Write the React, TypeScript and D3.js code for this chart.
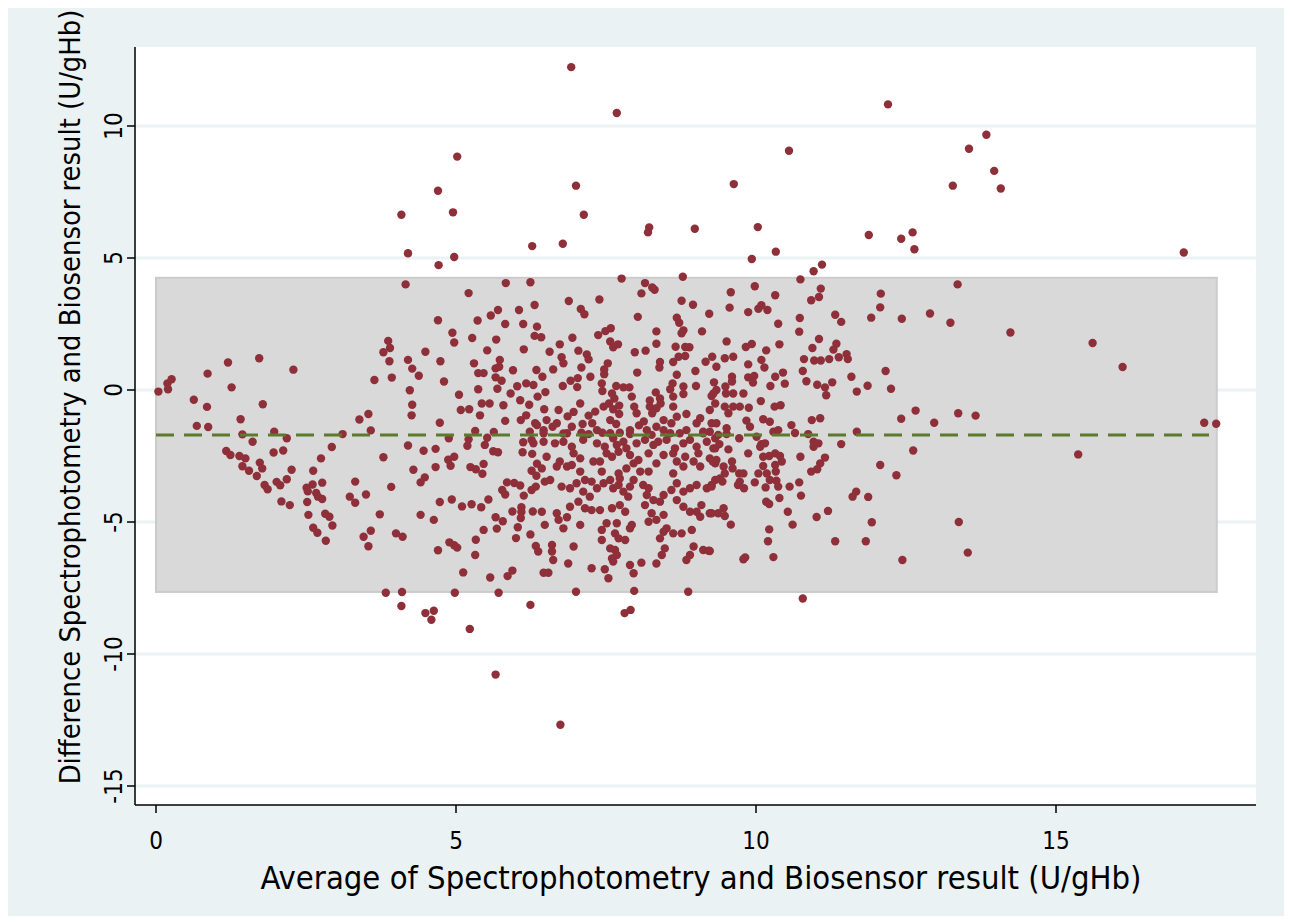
import React from 'react';
import * as d3 from 'd3';

// ---- axis / reference values ----
const xTicks = [0, 5, 10, 15];
const yTicks = [-15, -10, -5, 0, 5, 10];
const meanDiff = -1.7;
const upperLimit = 4.25;
const lowerLimit = -7.65;
const bandStart = 0;
const bandEnd = 17.68;
const dashEnd = 17.55;
const xTitle = 'Average of Spectrophotometry and Biosensor result (U/gHb)';
const yTitle = 'Difference Spectrophotometry and Biosensor result (U/gHb)';

// ---- observations: [average, difference] ----
const lowAverages: [number, number][] = [
  [0.04,-0.06],[0.2,0.03],[0.19,0.25],[0.26,0.41],[0.86,0.62],[1.2,1.04],[1.72,1.2],[2.29,0.77],[1.26,0.1],[0.63,-0.37],
  [0.85,-0.64],[1.78,-0.54],[0.68,-1.36],[0.87,-1.4],[1.41,-1.11],[1.44,-1.68],[1.61,-1.96],[1.97,-1.58],[2.18,-1.83],[3.11,-1.67],
  [2.93,-2.16],[1.17,-2.31],[1.24,-2.46],[1.39,-2.5],[1.49,-2.59],[1.44,-2.89],[1.55,-3.06],[1.68,-3.26],[1.73,-2.75],[1.77,-2.97],
  [1.96,-2.37],[2.12,-2.29],[2.26,-3.02],[1.81,-3.6],[1.86,-3.76],[2.01,-3.48],[2.07,-3.61],[2.18,-3.38],[2.09,-4.22],[2.23,-4.36],
  [2.75,-2.59],[2.62,-3.06],[2.77,-3.51],[2.51,-3.7],[2.61,-3.58],[2.53,-3.84],[2.67,-3.9],[2.7,-4.04],[2.77,-4.13],[2.52,-4.24],
  [3.23,-4.04],[2.54,-4.73],[2.82,-4.69],[2.89,-4.8],[2.62,-5.22],[2.69,-5.41],[2.94,-5.13],[2.83,-5.71],[3.32,-3.47],[3.32,-4.27],
];

const upperOutliers: [number, number][] = [
  [6.92,12.23],[7.68,10.49],[12.2,10.82],[5.02,8.84],[4.7,7.55],[7.0,7.74],[9.63,7.8],[10.55,9.06],[4.09,6.64],[4.95,6.73],
  [7.13,6.64],[8.22,6.16],[8.2,5.97],[8.98,6.11],[10.03,6.17],[11.88,5.87],[12.42,5.73],[4.2,5.18],[4.97,5.04],[6.27,5.45],
  [6.78,5.54],[9.93,4.96],[10.33,5.24],
];

const highAverages: [number, number][] = [
  [13.84,9.67],[13.55,9.14],[13.97,8.3],[13.28,7.74],[14.08,7.63],[12.61,5.97],[12.64,5.33],[17.13,5.21],[13.36,4.0],[12.43,2.7],
  [12.9,2.9],[13.24,2.55],[14.24,2.18],[15.61,1.78],[16.11,0.87],[12.42,-1.09],[12.66,-0.78],[12.97,-1.24],[13.37,-0.88],[13.66,-0.97],
  [17.47,-1.24],[17.67,-1.28],[12.62,-2.29],[15.37,-2.44],[12.34,-3.23],[13.38,-5.0],[12.44,-6.44],[13.53,-6.16],
];

const lowerOutliers: [number, number][] = [
  [3.83,-7.68],[4.1,-7.65],[4.98,-7.68],[5.71,-7.68],[7.0,-7.64],[7.97,-7.61],[8.87,-7.64],[10.78,-7.9],[4.09,-8.18],[4.49,-8.45],
  [4.63,-8.36],[4.59,-8.7],[5.23,-9.05],[6.24,-8.14],[7.81,-8.45],[7.91,-8.33],[5.66,-10.78],[6.74,-12.68],
];

const midUpperLeft: [number, number][] = [
  [4.71,4.73],[4.16,4.0],[5.83,4.05],[6.24,4.08],[5.21,3.67],[6.31,3.22],[5.7,3.03],[5.58,2.82],[5.36,2.63],[6.05,3.03],
  [4.7,2.64],[5.82,2.5],[6.12,2.5],[6.35,2.4],[4.94,2.17],[4.97,1.8],[5.27,1.97],[5.67,1.91],[6.31,2.05],[6.13,1.54],
  [5.52,1.5],[3.87,1.86],[3.9,1.59],[3.79,1.43],[3.89,1.09],[4.49,1.45],[4.2,1.14],[4.74,1.09],[4.27,0.81],[4.38,0.54],
  [3.93,0.47],[3.64,0.38],[4.8,0.32],[5.3,1.01],[5.73,1.14],[5.66,0.82],[5.72,0.88],[5.37,0.64],[5.46,0.64],[5.66,0.48],
  [5.76,0.35],[5.95,0.75],[6.34,0.76],[4.23,-0.01],[5.37,0.03],[5.69,0.05],[6.02,0.14],[6.17,0.25],[6.29,0.19],[6.36,-0.25],
  [5.05,-0.18],[5.91,-0.13],[4.27,-0.56],[4.26,-0.96],[5.43,-0.51],[5.56,-0.51],[5.79,-0.58],[6.07,-0.39],[6.22,-0.56],[5.08,-0.76],
  [5.22,-0.73],[5.4,-0.96],[6.17,-0.96],[3.54,-0.91],[3.39,-1.12],[3.58,-1.53],[4.73,-1.24],[5.82,-1.17],[6.08,-1.14],[6.32,-1.26],
  [5.32,-1.55],[5.63,-1.59],[6.23,-1.58],[5.21,-1.87],[4.88,-1.83],[5.52,-1.81],
];

const midLowerLeft: [number, number][] = [
  [5.19,-2.11],[5.48,-2.08],[4.2,-2.1],[4.46,-2.3],[4.66,-2.23],[3.79,-2.55],[4.87,-2.64],[4.97,-2.53],[4.91,-2.87],[5.62,-2.32],
  [5.7,-2.36],[6.11,-2.36],[6.12,-1.98],[6.26,-1.89],[6.27,-2.42],[6.35,-2.79],[5.46,-2.8],[5.24,-2.92],[5.33,-3.0],[5.44,-3.17],
  [4.66,-2.92],[4.29,-3.02],[4.48,-3.31],[4.41,-3.5],[3.92,-3.67],[3.5,-3.96],[6.26,-3.06],[6.34,-3.25],[5.85,-3.5],[5.97,-3.52],
  [6.07,-3.62],[5.77,-3.79],[5.82,-3.96],[6.26,-3.79],[6.33,-3.66],[6.13,-4.0],[4.73,-4.24],[4.93,-4.15],[5.1,-4.41],[5.26,-4.33],
  [5.42,-4.44],[5.54,-4.15],[6.09,-4.44],[6.09,-4.62],[6.28,-4.6],[5.94,-4.6],[6.08,-4.85],[3.73,-4.71],[4.41,-4.73],[4.63,-4.92],
  [5.66,-4.82],[5.78,-4.97],[5.68,-5.25],[6.03,-5.2],[6.0,-5.61],[5.46,-5.3],[5.33,-5.67],[3.58,-5.33],[3.46,-5.56],[3.54,-5.92],
  [4.0,-5.43],[4.11,-5.56],[4.89,-5.77],[4.97,-5.88],[5.02,-5.97],[4.7,-6.07],[5.32,-6.25],[6.24,-5.47],[6.33,-5.91],[5.12,-6.91],
  [5.57,-7.1],[5.86,-7.05],[5.94,-6.84],
];

const midUpperCentre: [number, number][] = [
  [7.76,4.22],[8.78,4.29],[8.15,4.05],[8.09,3.66],[8.27,3.88],[8.31,3.8],[6.88,3.37],[7.39,3.43],[7.08,3.07],[7.14,2.87],
  [8.76,3.38],[8.95,3.23],[9.22,2.89],[8.03,2.77],[8.68,2.74],[8.72,2.55],[6.42,2.0],[6.94,1.98],[7.37,2.08],[7.49,2.23],
  [7.58,2.34],[7.57,1.84],[7.62,1.62],[7.7,1.73],[8.34,2.22],[8.34,1.75],[8.79,2.26],[8.76,2.15],[9.1,2.22],[6.73,1.73],
  [6.56,1.45],[7.04,1.49],[7.18,1.35],[7.21,1.16],[6.76,1.24],[6.79,1.01],[7.09,0.85],[6.62,0.78],[7.53,1.01],[7.47,0.78],
  [7.47,0.6],[7.98,1.43],[8.16,1.49],[8.66,1.64],[8.82,1.63],[8.89,1.62],[8.71,1.26],[8.82,1.29],[8.62,1.06],[8.4,1.06],
  [8.39,0.85],[9.16,1.07],[9.27,1.26],[9.34,0.88],[8.99,0.72],[8.02,0.66],[8.68,0.58],[6.44,0.5],[6.91,0.35],[7.03,0.45],
  [7.02,0.11],[6.78,0.15],[7.24,0.5],[6.49,-0.08],[7.43,0.25],[7.44,-0.04],[7.67,0.15],[7.79,0.1],[7.89,0.1],[7.6,-0.13],
  [7.64,-0.32],[7.55,-0.51],[7.62,-0.73],[7.72,-0.59],[7.72,-0.91],[7.57,-1.14],[7.46,-0.63],[7.32,-0.82],[7.21,-0.97],[7.07,-0.51],
  [6.96,-0.83],[6.71,-0.76],[6.47,-0.73],[6.51,-1.14],[6.86,-1.0],[6.93,-1.39],[7.11,-1.29],[7.27,-1.26],[6.46,-1.52],[6.61,-1.39],
  [6.79,-1.65],[7.09,-1.62],[7.44,-1.62],[7.67,-1.29],[7.9,-1.52],[8.01,-0.88],[7.97,-0.63],[7.93,-0.25],[8.05,-1.34],[8.13,-1.19],
  [8.23,-0.4],[8.33,-0.09],[8.4,-0.32],[8.23,-0.63],[8.27,-0.88],[8.34,-0.69],[8.41,-0.51],[8.57,0.03],[8.61,0.25],[8.79,0.13],
  [9.0,0.15],[8.62,-0.25],[8.79,-0.15],[8.62,-0.63],[8.68,-1.01],[8.84,-0.91],[8.59,-1.26],[8.46,-1.14],[8.46,-1.52],[8.84,-1.52],
  [9.01,-1.26],[9.07,-1.07],[9.26,-0.23],[9.32,-0.51],[9.23,-0.76],[9.34,0.0],[9.26,-1.26],[9.23,-1.58],[6.35,-1.33],[6.68,-1.26],
  [7.35,-1.52],[7.73,-1.62],[8.18,-1.52],[8.34,-1.39],[8.57,-1.64],[9.12,-1.58],[9.34,-1.26],
];

const midLowerCentre: [number, number][] = [
  [6.46,-1.64],[6.85,-1.64],[7.21,-1.67],[7.57,-1.64],[7.9,-1.67],[8.26,-1.7],[8.73,-1.64],[9.12,-1.64],[9.37,-1.7],[6.29,-2.02],
  [6.46,-1.96],[6.65,-2.02],[6.79,-1.96],[6.93,-2.15],[7.12,-1.89],[7.35,-2.02],[7.48,-2.15],[7.62,-1.83],[7.68,-2.08],[7.79,-1.96],
  [7.84,-2.21],[8.01,-2.02],[8.15,-1.89],[8.29,-2.08],[8.37,-1.96],[8.51,-1.89],[8.65,-2.21],[8.79,-2.02],[8.9,-1.89],[9.01,-2.15],
  [9.18,-1.96],[9.32,-2.21],[6.51,-2.53],[6.43,-2.97],[6.96,-2.4],[7.07,-2.59],[6.85,-2.9],[6.93,-2.84],[7.07,-3.09],[7.29,-2.71],
  [7.4,-2.71],[7.43,-3.09],[7.51,-2.4],[7.6,-2.53],[7.71,-2.34],[7.71,-3.16],[7.9,-2.46],[7.96,-2.78],[7.84,-2.97],[8.04,-2.65],
  [8.07,-3.09],[8.21,-3.09],[8.21,-2.4],[8.34,-2.78],[8.46,-2.46],[8.62,-2.4],[8.68,-2.71],[8.62,-3.16],[8.82,-2.53],[8.79,-2.9],
  [8.96,-2.71],[9.04,-2.4],[9.07,-2.9],[9.23,-2.59],[9.32,-2.78],[6.68,-2.9],[6.73,-2.71],[6.48,-3.47],[6.57,-3.41],[6.76,-3.66],
  [6.9,-3.72],[7.01,-3.53],[7.15,-3.41],[7.26,-3.47],[7.12,-3.85],[7.23,-4.04],[7.35,-3.72],[7.46,-3.53],[7.62,-3.72],[7.71,-3.6],
  [7.79,-3.85],[7.9,-3.66],[7.96,-3.41],[7.73,-3.35],[7.57,-3.41],[7.87,-4.04],[8.12,-3.6],[8.21,-3.72],[8.18,-3.98],[8.29,-4.17],
  [8.4,-4.23],[8.46,-3.98],[8.59,-3.79],[8.68,-3.53],[8.79,-3.85],[8.9,-3.72],[9.01,-3.6],[9.18,-3.72],[9.26,-3.6],[8.68,-4.17],
  [8.79,-4.42],[9.09,-4.36],[8.9,-4.61],[9.01,-4.61],[9.07,-4.8],[9.23,-4.67],[6.43,-4.61],[6.68,-4.67],[6.71,-4.92],[6.85,-4.82],
  [6.79,-5.24],[6.48,-5.11],[6.9,-4.42],[7.04,-4.23],[7.15,-4.48],[7.26,-4.55],[7.4,-4.55],[7.07,-5.11],[7.6,-4.48],[7.73,-4.36],
  [7.82,-4.61],[7.51,-5.05],[7.68,-5.05],[7.43,-5.3],[7.65,-5.43],[7.71,-5.62],[7.82,-5.68],[7.9,-5.24],[7.93,-5.11],[8.15,-4.36],
  [8.26,-4.67],[8.21,-4.99],[8.34,-4.92],[8.46,-4.73],[8.51,-5.24],[8.46,-5.37],[8.4,-5.62],[8.62,-5.43],[8.76,-5.43],[8.93,-5.3],
  [6.37,-6.12],[6.6,-5.87],[6.6,-6.12],[6.62,-6.44],[6.96,-5.93],[7.43,-5.68],[7.57,-6.0],[7.65,-6.06],[7.6,-6.38],[7.68,-6.25],
  [7.62,-6.5],[8.48,-6.0],[8.43,-6.25],[8.34,-6.57],[8.09,-6.54],[7.9,-6.63],[7.96,-6.94],[8.96,-5.93],[8.9,-6.25],[8.84,-6.44],
  [9.12,-6.06],[9.21,-6.09],[6.87,-6.57],[7.26,-6.75],[7.48,-6.79],[7.54,-7.13],[6.46,-6.92],[6.54,-6.92],
];

const midRight: [number, number][] = [
  [11.1,4.75],[10.96,4.5],[10.74,4.19],[9.98,3.93],[9.58,3.7],[10.32,3.59],[11.08,3.84],[11.05,3.52],[10.92,3.4],[12.08,3.65],
  [12.07,3.13],[11.92,2.74],[9.56,3.12],[9.87,2.95],[10.04,3.08],[10.09,3.21],[10.19,3.03],[10.37,2.51],[10.73,2.73],[10.72,2.21],
  [11.32,2.85],[11.42,2.58],[9.51,1.84],[9.83,1.63],[9.93,1.74],[10.17,1.5],[10.39,1.73],[11.05,1.93],[10.94,1.59],[11.34,1.75],
  [11.29,1.53],[9.48,1.2],[9.62,1.26],[9.87,0.97],[10.09,1.14],[10.14,0.85],[10.8,1.17],[10.97,1.12],[11.08,1.12],[11.22,1.17],
  [11.38,1.24],[11.51,1.36],[11.53,1.17],[10.78,0.72],[10.45,0.66],[10.32,0.5],[9.87,0.48],[9.97,0.53],[9.95,0.28],[9.6,0.5],
  [9.6,0.32],[9.3,0.29],[11.59,0.5],[12.16,0.72],[10.84,0.33],[10.48,0.24],[10.24,0.15],[11.02,0.2],[11.15,0.1],[11.27,0.29],
  [11.17,-0.2],[11.86,0.16],[11.68,-0.06],[12.25,0.05],[9.49,0.13],[9.29,-0.13],[9.5,-0.13],[9.62,-0.13],[9.79,-0.13],[9.48,-0.63],
  [9.62,-0.63],[9.73,-0.63],[9.54,-0.88],[10.08,-0.42],[9.88,-0.67],[10.31,-0.63],[10.41,-0.58],[9.51,-1.45],[9.84,-1.16],[9.9,-1.39],
  [10.12,-1.11],[10.23,-1.2],[10.29,-1.58],[10.37,-1.52],[10.59,-1.33],[10.93,-1.14],[11.07,-1.07],[10.65,-1.63],[11.68,-1.58],
];

const midLowerRight: [number, number][] = [
  [9.51,-1.67],[10.87,-1.67],[9.32,-1.83],[9.39,-2.05],[9.54,-2.25],[9.29,-2.21],[9.72,-1.83],[10.01,-1.77],[10.09,-2.05],[10.15,-2.02],
  [10.07,-2.15],[10.96,-1.96],[11.04,-2.02],[10.96,-2.15],[11.42,-2.05],[9.87,-2.4],[10.74,-2.53],[11.15,-2.56],[11.07,-2.78],[11.02,-3.0],
  [10.92,-3.09],[12.07,-2.84],[10.12,-2.53],[10.22,-2.5],[10.32,-2.4],[10.4,-2.5],[10.43,-2.71],[10.12,-2.88],[10.32,-2.84],[10.33,-3.09],
  [10.04,-3.16],[10.18,-3.16],[10.23,-3.41],[10.34,-3.44],[9.98,-3.5],[9.79,-3.16],[9.72,-3.16],[9.73,-3.47],[9.7,-3.6],[9.8,-3.72],
  [9.46,-2.9],[9.48,-3.16],[9.4,-3.35],[9.44,-3.47],[9.32,-3.41],[9.26,-3.66],[9.61,-2.97],[9.34,-2.65],[9.28,-2.71],[9.6,-2.71],
  [10.16,-3.69],[10.37,-3.66],[10.56,-3.66],[10.72,-3.5],[10.75,-4.0],[10.39,-4.09],[10.17,-4.23],[10.22,-4.32],[11.61,-4.04],[11.67,-3.85],
  [11.87,-4.05],[10.53,-4.61],[11.2,-4.58],[11.01,-4.81],[11.93,-5.01],[10.61,-5.1],[9.46,-4.48],[9.37,-4.67],[9.48,-4.77],[9.58,-5.1],
  [9.26,-4.67],[10.22,-5.28],[10.2,-5.73],[11.32,-5.73],[11.83,-5.73],[9.23,-6.1],[9.79,-6.41],[9.82,-6.34],[10.29,-6.33],
];

const observations: [number, number][] = [
  ...lowAverages, ...upperOutliers, ...highAverages, ...lowerOutliers,
  ...midUpperLeft, ...midLowerLeft, ...midUpperCentre, ...midLowerCentre,
  ...midRight, ...midLowerRight,
];

const FONT = '"DejaVu Sans Condensed", "DejaVu Sans", sans-serif';

export default function App() {
  const x = d3.scaleLinear().domain([0, 15]).range([156, 1056]);
  const y = d3.scaleLinear().domain([-15, 10]).range([786, 126]);

  const plotLeft = 136;
  const plotRight = 1256;
  const plotTop = 47;
  const plotBottom = 805;

  return (
    <svg
      width={1292}
      height={924}
      style={{ position: 'absolute', left: 0, top: 0 }}
      fontFamily={FONT}
      fontStretch="condensed"
    >
      <rect x={8} y={8} width={1276} height={908} fill="#eaf2f3" />
      <rect x={plotLeft} y={plotTop} width={plotRight - plotLeft} height={plotBottom - plotTop} fill="#ffffff" />

      {yTicks.map((t) => (
        <line key={'g' + t} x1={plotLeft} x2={plotRight} y1={y(t)} y2={y(t)} stroke="#eaf2f3" strokeWidth={3} />
      ))}

      <rect
        x={x(bandStart)}
        y={y(upperLimit)}
        width={x(bandEnd) - x(bandStart)}
        height={y(lowerLimit) - y(upperLimit)}
        fill="#d9d9d9"
        stroke="#cbcbcb"
        strokeWidth={2}
      />

      {observations.map(([a, d], i) => (
        <circle key={i} cx={x(a)} cy={y(d)} r={4.2} fill="#8e2f39" />
      ))}

      <line
        x1={x(bandStart)}
        x2={x(dashEnd)}
        y1={y(meanDiff)}
        y2={y(meanDiff)}
        stroke="#5b7a2c"
        strokeWidth={3}
        strokeDasharray="18 10"
      />

      {/* axes */}
      <line x1={135} x2={135} y1={plotTop} y2={plotBottom} stroke="#000" strokeWidth={1.5} />
      <line x1={135} x2={plotRight} y1={plotBottom} y2={plotBottom} stroke="#000" strokeWidth={1.5} />

      {yTicks.map((t) => (
        <g key={'yt' + t}>
          <line x1={127} x2={135} y1={y(t)} y2={y(t)} stroke="#000" strokeWidth={1.5} />
          <text
            transform={`translate(122,${y(t)}) rotate(-90)`}
            textAnchor="middle"
            fontSize={24}
            fill="#000"
          >
            {t}
          </text>
        </g>
      ))}

      {xTicks.map((t) => (
        <g key={'xt' + t}>
          <line x1={x(t)} x2={x(t)} y1={plotBottom} y2={plotBottom + 8} stroke="#000" strokeWidth={1.5} />
          <text x={x(t)} y={849} textAnchor="middle" fontSize={24} fill="#000">
            {t}
          </text>
        </g>
      ))}

      <text x={701} y={889} textAnchor="middle" fontSize={32.5} fill="#000">
        {xTitle}
      </text>
      <text transform="translate(80,397) rotate(-90)" textAnchor="middle" fontSize={28.8} fill="#000">
        {yTitle}
      </text>
    </svg>
  );
}
